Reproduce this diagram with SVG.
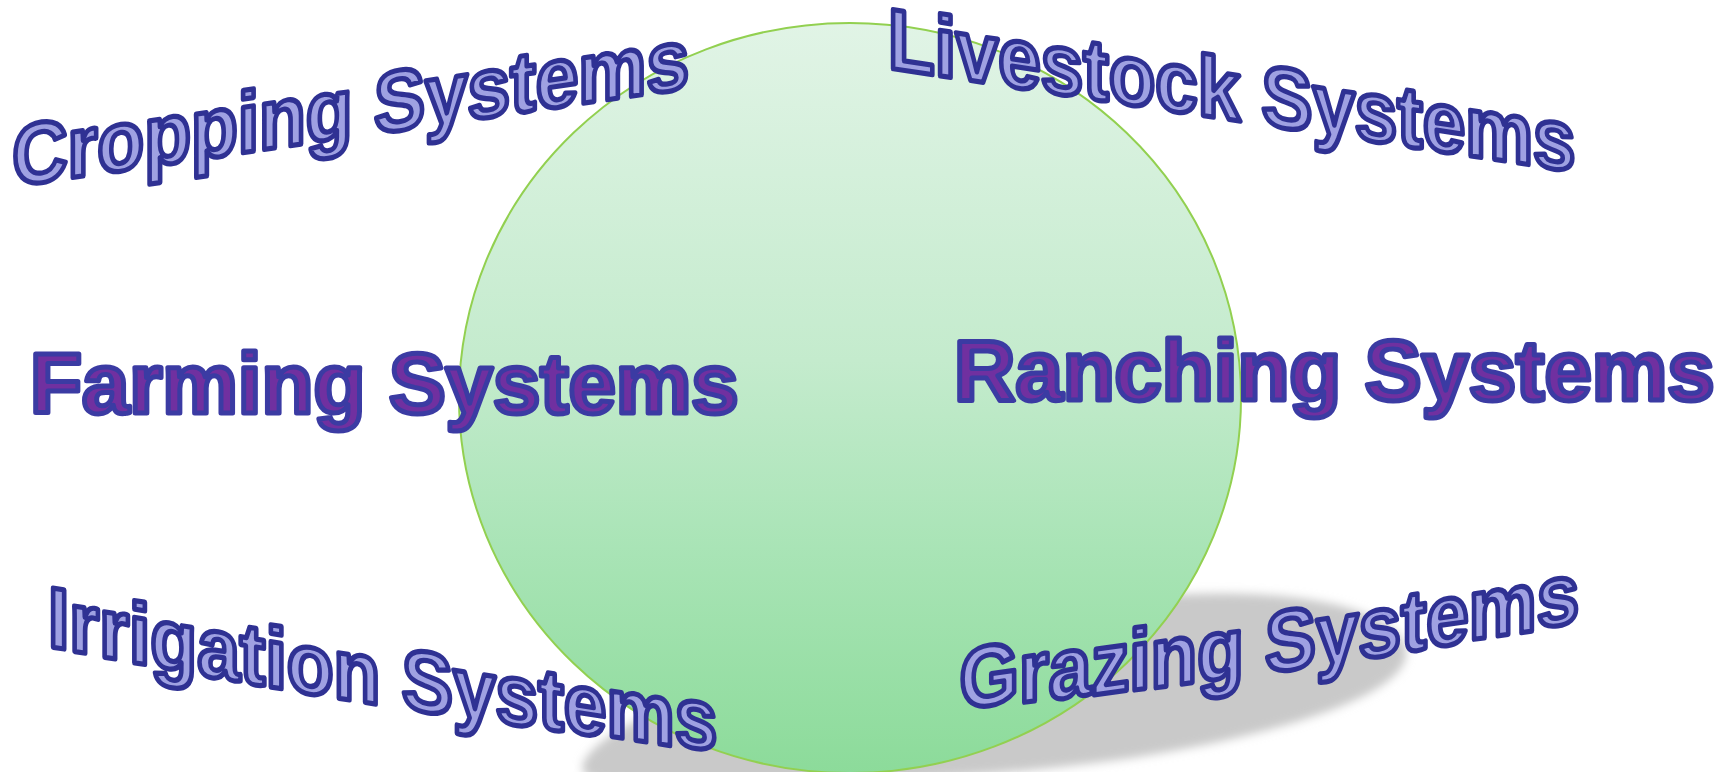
<svg xmlns="http://www.w3.org/2000/svg" width="1732" height="772" viewBox="0 0 1732 772">
  <defs>
    <linearGradient id="ballGrad" x1="0" y1="0" x2="0" y2="1">
      <stop offset="0" stop-color="#e1f4e6"/>
      <stop offset="0.45" stop-color="#c4ebcd"/>
      <stop offset="0.7" stop-color="#a9e4b6"/>
      <stop offset="1" stop-color="#8cdb9a"/>
    </linearGradient>
    <filter id="soft" x="-10%" y="-30%" width="120%" height="160%">
      <feGaussianBlur stdDeviation="5"/>
    </filter>
    <style>
      .arc { font-family: "Liberation Sans", Arial, sans-serif; font-weight: bold; font-size: 86px; fill: #9fa1e2; stroke: #2f3193; stroke-width: 5.2; stroke-linejoin: round; }
      .head { font-family: "Liberation Sans", Arial, sans-serif; font-weight: bold; font-size: 85px; fill: #7030a0; stroke: #3b3ba3; stroke-width: 5; stroke-linejoin: round; }
    </style>
  </defs>
  <rect width="1732" height="772" fill="#ffffff"/>

  <g id="shadow">
    <path d="M 585 760 C 620 700, 900 620, 1150 596 C 1300 585, 1400 610, 1406 650 C 1412 690, 1300 730, 1150 755 C 1000 780, 750 790, 610 782 C 585 780, 578 770, 585 760 Z" fill="#c9c9c9" filter="url(#soft)"/>
  </g>

  <g id="circle">
    <ellipse cx="850" cy="398" rx="391" ry="375" fill="url(#ballGrad)" stroke="#92d050" stroke-width="2"/>
  </g>

  <g id="farming-systems">
    <text class="head" x="30" y="413">Farming Systems</text>
  </g>

  <g id="ranching-systems">
    <text class="head" x="954" y="400">Ranching Systems</text>
  </g>

  <g id="cropping-systems">
    <text class="arc" transform="matrix(0.891 -0.1297 0 1 12.2 186.3)" x="0" y="0">Cropping Systems</text>
  </g>

  <g id="livestock-systems">
    <text class="arc" transform="matrix(0.888 0.1337 0 1 888 68)" x="0" y="0">Livestock Systems</text>
  </g>

  <g id="irrigation-systems">
    <text class="arc" transform="matrix(0.892 0.1388 0 1 48 646.1)" x="0" y="0" dy="0.44 0.99 1.07 0.81 0.96 1.05 0.63 0.34 0.38 0.29 0.04 -0.13 -0.39 -0.61 -0.65 -0.79 -1.58 -1.98">Irrigation Systems</text>
  </g>

  <g id="grazing-systems">
    <text class="arc" transform="matrix(0.888 -0.1244 0 1 959.6 707.9)" x="0" y="0" dy="1.46 1.92 1.30 1.20 0.72 0.64 0.56 0.18 -0.02 -0.35 -0.62 -0.72 -0.93 -1.89 -2.40">Grazing Systems</text>
  </g>
</svg>
